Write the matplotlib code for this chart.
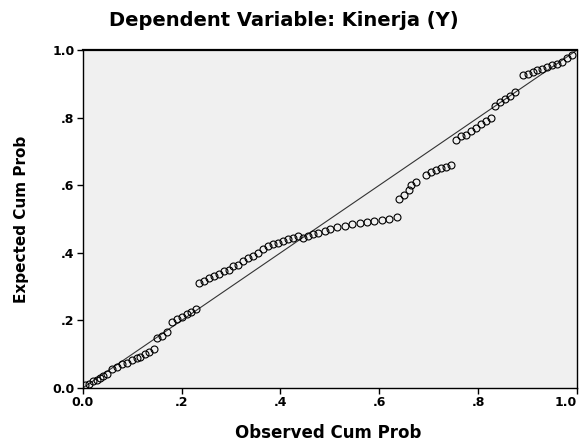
import matplotlib
matplotlib.use('Agg')
import matplotlib.pyplot as plt
import numpy as np

# Normal P-P plot of regression standardized residual
title = 'Dependent Variable: Kinerja (Y)'
tick_values = [0.0, 0.2, 0.4, 0.6, 0.8, 1.0]
tick_labels = ['0.0', '.2', '.4', '.6', '.8', '1.0']

observed = [0.005, 0.012, 0.02, 0.028, 0.035, 0.042, 0.05,
            0.06, 0.07, 0.08, 0.09, 0.10, 0.11,
            0.115, 0.125, 0.135, 0.145,
            0.15, 0.16, 0.17,
            0.18, 0.19, 0.20, 0.21, 0.22, 0.23,
            0.235, 0.245, 0.255, 0.265, 0.275, 0.285,
            0.295, 0.305, 0.315, 0.325, 0.335, 0.345, 0.355, 0.365,
            0.375, 0.385, 0.395, 0.405, 0.415, 0.425, 0.435,
            0.445, 0.455, 0.465, 0.475, 0.49, 0.50, 0.515, 0.53,
            0.545, 0.56, 0.575, 0.59, 0.605, 0.62, 0.635,
            0.64, 0.65, 0.66,
            0.665, 0.675,
            0.695, 0.705, 0.715, 0.725, 0.735, 0.745,
            0.755, 0.765, 0.775, 0.785, 0.795, 0.805, 0.815, 0.825,
            0.835, 0.845, 0.855, 0.865, 0.875,
            0.89, 0.90, 0.91, 0.92, 0.93, 0.94, 0.95, 0.96, 0.97, 0.98, 0.99]
expected = [0.008, 0.012, 0.02, 0.025, 0.03, 0.036, 0.042,
            0.055, 0.062, 0.07, 0.075, 0.082, 0.09,
            0.092, 0.10, 0.108, 0.115,
            0.148, 0.155, 0.165,
            0.195, 0.205, 0.21, 0.22, 0.225, 0.235,
            0.31, 0.318, 0.325, 0.33, 0.338, 0.345,
            0.35, 0.36, 0.365, 0.375, 0.385, 0.39, 0.40, 0.41,
            0.42, 0.425, 0.43, 0.435, 0.44, 0.445, 0.45,
            0.445, 0.45, 0.455, 0.46, 0.465, 0.47, 0.475, 0.48,
            0.485, 0.487, 0.49, 0.493, 0.497, 0.50, 0.505,
            0.56, 0.57, 0.585,
            0.60, 0.61,
            0.63, 0.64, 0.645, 0.65, 0.655, 0.66,
            0.735, 0.745, 0.75, 0.76, 0.77, 0.78, 0.79, 0.80,
            0.835, 0.845, 0.855, 0.865, 0.875,
            0.925, 0.93, 0.935, 0.94, 0.945, 0.95, 0.955, 0.96, 0.965, 0.975, 0.985]

fig = plt.figure(figsize=(5.85, 4.45), dpi=100)
ax = fig.add_axes([0.1414, 0.128, 0.845, 0.7596])
ax.set_facecolor('#f0f0f0')

# reference diagonal
ax.plot([0, 1], [0, 1], '-', color='#333333', linewidth=0.8, zorder=2)
ax.plot(observed, expected, 'o', ms=5, mfc='none', mec='black', mew=0.8, zorder=3)

ax.set_xlim(0, 1)
ax.set_ylim(0, 1)
ax.set_xticks(tick_values)
ax.set_xticklabels(tick_labels)
ax.set_yticks(tick_values)
ax.set_yticklabels(tick_labels)
ax.tick_params(direction='out', length=4, width=1, labelsize=9, pad=2)
for lab in ax.get_xticklabels() + ax.get_yticklabels():
    lab.set_fontweight('bold')
# last x label would run off the right edge
ax.get_xticklabels()[-1].set_horizontalalignment('right')
for side in ['top', 'bottom', 'left', 'right']:
    ax.spines[side].set_linewidth(1.0)
ax.spines['top'].set_linewidth(1.6)

ax.set_xlabel('Observed Cum Prob', fontsize=12, fontweight='bold', va='center')
ax.set_ylabel('Expected Cum Prob', fontsize=11, fontweight='bold', va='center')
ax.xaxis.set_label_coords(0.496, -0.133)
ax.yaxis.set_label_coords(-0.123, 0.5)
fig.text(0.485, 0.953, title, ha='center', va='center', fontsize=14, fontweight='bold')

fig.savefig('out.png', dpi=100)
